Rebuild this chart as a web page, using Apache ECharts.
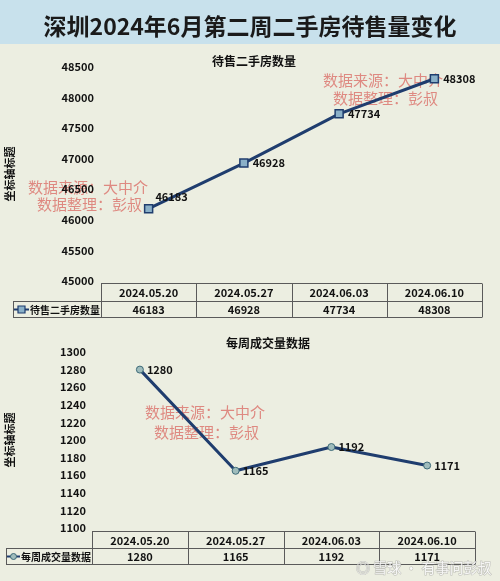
<!DOCTYPE html>
<html>
<head>
<meta charset="utf-8">
<script src="https://cdn.jsdelivr.net/npm/echarts@6/dist/echarts.min.js"></script>
<style>
html, body { margin: 0; padding: 0; background: #eceee1; }
#main { width: 500px; height: 581px; }
</style>
</head>
<body>
<div id="main"></div>
<script>
// 数据
const weeks = ['2024.05.20', '2024.05.27', '2024.06.03', '2024.06.10']
const stockName = '待售二手房数量'
const stockValues = [46183, 46928, 47734, 48308]
const dealName = '每周成交量数据'
const dealValues = [1280, 1165, 1192, 1171]

const FONT = '"Noto Sans CJK SC", "Noto Sans", sans-serif'
const LINE_COLOR = '#1f3d6e'

// 两个图的布局
const topBox = { left: 101, right: 482, top: 67, bottom: 281, legendLeft: 13, iconW: 15, rowTop: 283.5, rowMid: 301.5, rowBottom: 317.5 }
const botBox = { left: 92, right: 475, top: 352, bottom: 528, legendLeft: 6, iconW: 13, rowTop: 531.5, rowMid: 548.5, rowBottom: 564.5 }

const cellText = (x, y, text, align) => ({
  type: 'text', silent: true,
  x: x, y: y,
  style: { text: text, fill: '#111', font: 'bold 11px ' + FONT, align: align || 'center', verticalAlign: 'middle' }
})

// 画图表下面的数据表（Excel 风格）
function buildTable(b, names, values, seriesName, symbol) {
  const els = []
  const line = (x1, y1, x2, y2) => els.push({
    type: 'line', silent: true,
    shape: { x1, y1, x2, y2 },
    style: { stroke: '#5a5a5a', lineWidth: 1 }
  })
  const colW = (b.right - b.left) / names.length
  line(b.left, b.rowTop, b.right, b.rowTop)
  line(b.legendLeft, b.rowMid, b.right, b.rowMid)
  line(b.legendLeft, b.rowBottom, b.right, b.rowBottom)
  line(b.legendLeft + 0.5, b.rowMid, b.legendLeft + 0.5, b.rowBottom)
  for (let i = 0; i <= names.length; i++) {
    const x = Math.round(b.left + colW * i) + 0.5
    line(x, b.rowTop, x, b.rowBottom)
  }
  names.forEach((n, i) => {
    const cx = b.left + colW * (i + 0.5)
    els.push(cellText(cx, (b.rowTop + b.rowMid) / 2 + 0.5, n))
    els.push(cellText(cx, (b.rowMid + b.rowBottom) / 2 + 0.5, String(values[i])))
  })
  // 图例格子
  const ly = (b.rowMid + b.rowBottom) / 2
  const ix = b.legendLeft + 1
  els.push({ type: 'line', silent: true, shape: { x1: ix, y1: ly, x2: ix + b.iconW, y2: ly }, style: { stroke: LINE_COLOR, lineWidth: 2 } })
  if (symbol === 'rect') {
    els.push({ type: 'rect', silent: true, shape: { x: ix + b.iconW / 2 - 3.5, y: ly - 3.5, width: 7, height: 7 }, style: { fill: '#8ab0c8', stroke: LINE_COLOR, lineWidth: 1.2 } })
  } else {
    els.push({ type: 'circle', silent: true, shape: { cx: ix + b.iconW / 2, cy: ly, r: 3 }, style: { fill: '#9fbcbc', stroke: '#3d6a78', lineWidth: 1 } })
  }
  els.push({
    type: 'text', silent: true, x: ix + b.iconW + 1, y: ly + 0.5,
    style: { text: seriesName, fill: '#111', font: 'bold 10px ' + FONT, align: 'left', verticalAlign: 'middle' }
  })
  return els
}

// 水印
const mark = (x, y, text) => ({
  type: 'text', silent: true, x: x, y: y,
  style: { text: text, fill: 'rgba(214, 70, 65, 0.6)', font: '15px ' + FONT, verticalAlign: 'middle' }
})

const chart = echarts.init(document.getElementById('main'))

const yAxisBase = {
  type: 'value',
  name: '坐标轴标题',
  nameLocation: 'middle',
  nameRotate: 90,
  nameTextStyle: { fontFamily: FONT, fontWeight: 'bold', fontSize: 11, color: '#111' },
  axisLine: { show: false },
  axisTick: { show: false },
  splitLine: { show: false },
  axisLabel: { fontFamily: FONT, fontWeight: 'bold', fontSize: 11, color: '#111', formatter: v => String(v) }
}

const xAxisBase = {
  type: 'category',
  data: weeks,
  boundaryGap: true,
  axisLine: { show: false },
  axisTick: { show: false },
  axisLabel: { show: false }
}

const labelBase = { show: true, position: 'right', distance: 4, fontFamily: FONT, fontWeight: 'bold', fontSize: 11, color: '#111' }

const option = {
  backgroundColor: '#eceee1',
  animation: false,
  title: [
    { text: '深圳2024年6月第二周二手房待售量变化', left: 'center', top: 10,
      textStyle: { fontFamily: FONT, fontWeight: 'bold', fontSize: 23, color: '#1a1a1a' } },
    { text: stockName, left: 249, textAlign: 'center', top: 50,
      textStyle: { fontFamily: FONT, fontWeight: 'bold', fontSize: 12, color: '#111' } },
    { text: dealName, left: 263, textAlign: 'center', top: 332,
      textStyle: { fontFamily: FONT, fontWeight: 'bold', fontSize: 12, color: '#111' } }
  ],
  grid: [
    { left: topBox.left, right: 500 - topBox.right, top: topBox.top, bottom: 581 - topBox.bottom, outerBoundsMode: 'none' },
    { left: botBox.left, right: 500 - botBox.right, top: botBox.top, bottom: 581 - botBox.bottom, outerBoundsMode: 'none' }
  ],
  xAxis: [
    Object.assign({}, xAxisBase, { gridIndex: 0 }),
    Object.assign({}, xAxisBase, { gridIndex: 1 })
  ],
  yAxis: [
    Object.assign({}, yAxisBase, { gridIndex: 0, min: 45000, max: 48500, interval: 500, nameGap: 86,
      axisLabel: Object.assign({}, yAxisBase.axisLabel, { margin: 7 }) }),
    Object.assign({}, yAxisBase, { gridIndex: 1, min: 1100, max: 1300, interval: 20, nameGap: 77,
      axisLabel: Object.assign({}, yAxisBase.axisLabel, { margin: 6 }) })
  ],
  series: [
    {
      name: stockName, type: 'line', xAxisIndex: 0, yAxisIndex: 0,
      data: stockValues.map((v, i) => i === 0 ? { value: v, label: { offset: [-2, -12] } } : v),
      symbol: 'rect', symbolSize: 8,
      lineStyle: { color: LINE_COLOR, width: 3 },
      itemStyle: { color: '#8ab0c8', borderColor: LINE_COLOR, borderWidth: 1.5 },
      label: labelBase
    },
    {
      name: dealName, type: 'line', xAxisIndex: 1, yAxisIndex: 1,
      data: dealValues,
      symbol: 'circle', symbolSize: 7,
      lineStyle: { color: LINE_COLOR, width: 3 },
      itemStyle: { color: '#9fbcbc', borderColor: '#3d6a78', borderWidth: 1 },
      label: Object.assign({}, labelBase, { distance: 3 })
    }
  ],
  graphic: [
    { type: 'rect', silent: true, z: -10, shape: { x: 0, y: 0, width: 500, height: 44 }, style: { fill: '#c8e1ec' } },
    ...buildTable(topBox, weeks, stockValues, stockName, 'rect'),
    ...buildTable(botBox, weeks, dealValues, dealName, 'circle'),
    mark(28, 187, '数据来源：大中介'),
    mark(37, 204, '数据整理：彭叔'),
    mark(323, 80, '数据来源：大中介'),
    mark(333, 98, '数据整理：彭叔'),
    mark(145, 412, '数据来源：大中介'),
    mark(154, 432, '数据整理：彭叔'),
    {
      type: 'text', silent: true, x: 356, y: 568,
      style: { text: '◎ 雪球 · 有事问彭叔', fill: 'rgba(255,255,255,0.85)', stroke: 'rgba(140,140,140,0.5)', lineWidth: 1,
        font: '14px ' + FONT, verticalAlign: 'middle' }
    }
  ]
}

chart.setOption(option)
</script>
</body>
</html>
